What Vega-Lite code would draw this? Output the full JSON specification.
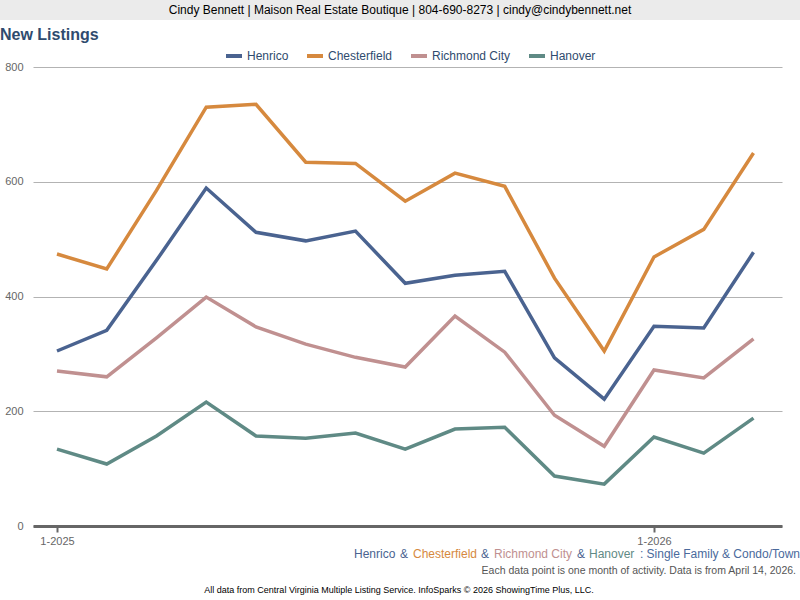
{
  "$schema": "https://vega.github.io/schema/vega-lite/v6.json",
  "padding": 0,
  "background": "white",
  "width": 749,
  "height": 459,
  "config": {"view": {"stroke": null}, "font": "Liberation Sans"},
  "datasets": {
    "listings": [
      {"month": "2025-01", "area": "Henrico", "value": 305},
      {"month": "2025-02", "area": "Henrico", "value": 341},
      {"month": "2025-03", "area": "Henrico", "value": 463},
      {"month": "2025-04", "area": "Henrico", "value": 589},
      {"month": "2025-05", "area": "Henrico", "value": 512},
      {"month": "2025-06", "area": "Henrico", "value": 497},
      {"month": "2025-07", "area": "Henrico", "value": 514},
      {"month": "2025-08", "area": "Henrico", "value": 423},
      {"month": "2025-09", "area": "Henrico", "value": 437},
      {"month": "2025-10", "area": "Henrico", "value": 444},
      {"month": "2025-11", "area": "Henrico", "value": 293},
      {"month": "2025-12", "area": "Henrico", "value": 221},
      {"month": "2026-01", "area": "Henrico", "value": 348},
      {"month": "2026-02", "area": "Henrico", "value": 345},
      {"month": "2026-03", "area": "Henrico", "value": 477},
      {"month": "2025-01", "area": "Chesterfield", "value": 474},
      {"month": "2025-02", "area": "Chesterfield", "value": 448},
      {"month": "2025-03", "area": "Chesterfield", "value": 585},
      {"month": "2025-04", "area": "Chesterfield", "value": 730},
      {"month": "2025-05", "area": "Chesterfield", "value": 735},
      {"month": "2025-06", "area": "Chesterfield", "value": 634},
      {"month": "2025-07", "area": "Chesterfield", "value": 632},
      {"month": "2025-08", "area": "Chesterfield", "value": 566},
      {"month": "2025-09", "area": "Chesterfield", "value": 615},
      {"month": "2025-10", "area": "Chesterfield", "value": 592},
      {"month": "2025-11", "area": "Chesterfield", "value": 432},
      {"month": "2025-12", "area": "Chesterfield", "value": 305},
      {"month": "2026-01", "area": "Chesterfield", "value": 469},
      {"month": "2026-02", "area": "Chesterfield", "value": 517},
      {"month": "2026-03", "area": "Chesterfield", "value": 650},
      {"month": "2025-01", "area": "Richmond City", "value": 270},
      {"month": "2025-02", "area": "Richmond City", "value": 260},
      {"month": "2025-03", "area": "Richmond City", "value": 328},
      {"month": "2025-04", "area": "Richmond City", "value": 399},
      {"month": "2025-05", "area": "Richmond City", "value": 347},
      {"month": "2025-06", "area": "Richmond City", "value": 317},
      {"month": "2025-07", "area": "Richmond City", "value": 294},
      {"month": "2025-08", "area": "Richmond City", "value": 277},
      {"month": "2025-09", "area": "Richmond City", "value": 366},
      {"month": "2025-10", "area": "Richmond City", "value": 303},
      {"month": "2025-11", "area": "Richmond City", "value": 193},
      {"month": "2025-12", "area": "Richmond City", "value": 139},
      {"month": "2026-01", "area": "Richmond City", "value": 272},
      {"month": "2026-02", "area": "Richmond City", "value": 258},
      {"month": "2026-03", "area": "Richmond City", "value": 326},
      {"month": "2025-01", "area": "Hanover", "value": 134},
      {"month": "2025-02", "area": "Hanover", "value": 108},
      {"month": "2025-03", "area": "Hanover", "value": 157},
      {"month": "2025-04", "area": "Hanover", "value": 216},
      {"month": "2025-05", "area": "Hanover", "value": 157},
      {"month": "2025-06", "area": "Hanover", "value": 153},
      {"month": "2025-07", "area": "Hanover", "value": 162},
      {"month": "2025-08", "area": "Hanover", "value": 134},
      {"month": "2025-09", "area": "Hanover", "value": 169},
      {"month": "2025-10", "area": "Hanover", "value": 172},
      {"month": "2025-11", "area": "Hanover", "value": 87},
      {"month": "2025-12", "area": "Hanover", "value": 73},
      {"month": "2026-01", "area": "Hanover", "value": 155},
      {"month": "2026-02", "area": "Hanover", "value": 127},
      {"month": "2026-03", "area": "Hanover", "value": 188}
    ]
  },
  "layer": [
    {
      "data": {"values": [{}]},
      "mark": {"type": "rect", "x": -33, "x2": {"expr": "width + 18"}, "y": -67, "y2": -47, "color": "#ebebeb"}
    },
    {
      "data": {"values": [{}]},
      "mark": {"type": "text", "text": "Cindy Bennett | Maison Real Estate Boutique | 804-690-8273 | cindy@cindybennett.net", "x": 367, "y": -57, "align": "center", "baseline": "middle", "fontSize": 12, "color": "#000000"}
    },
    {
      "data": {"values": [{}]},
      "mark": {"type": "text", "text": "New Listings", "x": -33, "y": -32, "align": "left", "baseline": "middle", "fontSize": 16, "fontWeight": "bold", "color": "#2f4b6e"}
    },
    {
      "data": {"name": "listings"},
      "mark": {"type": "line", "strokeWidth": 3.5},
      "encoding": {
        "x": {
          "field": "month", "type": "ordinal",
          "scale": {"type": "point", "padding": 0.5276, "align": 0.457},
          "axis": {
            "values": ["2025-01", "2026-01"],
            "labelExpr": "toNumber(substring(datum.value, 5, 7)) + '-' + substring(datum.value, 0, 4)",
            "title": null, "grid": false, "labelAngle": 0,
            "domainColor": "#666666", "domainWidth": 3,
            "tickColor": "#666666", "tickWidth": 2, "tickSize": 6,
            "labelColor": "#666666", "labelFontSize": 11, "labelPadding": 3
          }
        },
        "y": {
          "field": "value", "type": "quantitative",
          "scale": {"domain": [0, 800], "nice": false},
          "axis": {
            "values": [0, 200, 400, 600, 800], "title": null,
            "grid": true, "gridColor": "#b3b3b3", "gridWidth": 1,
            "domain": false, "ticks": false,
            "labelColor": "#666666", "labelFontSize": 11, "labelPadding": 10, "minExtent": 33
          }
        },
        "color": {
          "field": "area", "type": "nominal",
          "scale": {"domain": ["Henrico", "Chesterfield", "Richmond City", "Hanover"], "range": ["#4a6390", "#d6893e", "#c09090", "#5f8a85"]},
          "legend": {
            "orient": "none", "legendX": 191, "legendY": -21, "direction": "horizontal",
            "title": null, "symbolType": "stroke", "symbolStrokeWidth": 4, "symbolSize": 256,
            "labelFontSize": 12, "labelColor": "#2f4b6e", "columnPadding": 10, "labelOffset": 3
          }
        }
      }
    },
    {
      "data": {"values": [{}]},
      "mark": {"type": "text", "text": "Henrico", "x": 321, "y": {"expr": "height + 28"}, "align": "left", "baseline": "middle", "fontSize": 12, "color": "#4a6390"}
    },
    {
      "data": {"values": [{}]},
      "mark": {"type": "text", "text": "&", "x": 367, "y": {"expr": "height + 28"}, "align": "left", "baseline": "middle", "fontSize": 12, "color": "#4a6390"}
    },
    {
      "data": {"values": [{}]},
      "mark": {"type": "text", "text": "Chesterfield", "x": 380, "y": {"expr": "height + 28"}, "align": "left", "baseline": "middle", "fontSize": 12, "color": "#d6893e"}
    },
    {
      "data": {"values": [{}]},
      "mark": {"type": "text", "text": "&", "x": 448, "y": {"expr": "height + 28"}, "align": "left", "baseline": "middle", "fontSize": 12, "color": "#4a6390"}
    },
    {
      "data": {"values": [{}]},
      "mark": {"type": "text", "text": "Richmond City", "x": 461, "y": {"expr": "height + 28"}, "align": "left", "baseline": "middle", "fontSize": 12, "color": "#c09090"}
    },
    {
      "data": {"values": [{}]},
      "mark": {"type": "text", "text": "&", "x": 544, "y": {"expr": "height + 28"}, "align": "left", "baseline": "middle", "fontSize": 12, "color": "#4a6390"}
    },
    {
      "data": {"values": [{}]},
      "mark": {"type": "text", "text": "Hanover", "x": 556, "y": {"expr": "height + 28"}, "align": "left", "baseline": "middle", "fontSize": 12, "color": "#5f8a85"}
    },
    {
      "data": {"values": [{}]},
      "mark": {"type": "text", "text": ": Single Family & Condo/Town", "x": 767, "y": {"expr": "height + 28"}, "align": "right", "baseline": "middle", "fontSize": 12, "color": "#4a6a9c"}
    },
    {
      "data": {"values": [{}]},
      "mark": {"type": "text", "text": "Each data point is one month of activity. Data is from April 14, 2026.", "x": 763, "y": {"expr": "height + 45"}, "align": "right", "baseline": "middle", "fontSize": 10.5, "color": "#555555"}
    },
    {
      "data": {"values": [{}]},
      "mark": {"type": "text", "text": "All data from Central Virginia Multiple Listing Service. InfoSparks © 2026 ShowingTime Plus, LLC.", "x": 366, "y": {"expr": "height + 64"}, "align": "center", "baseline": "middle", "fontSize": 9, "color": "#000000"}
    }
  ]
}
